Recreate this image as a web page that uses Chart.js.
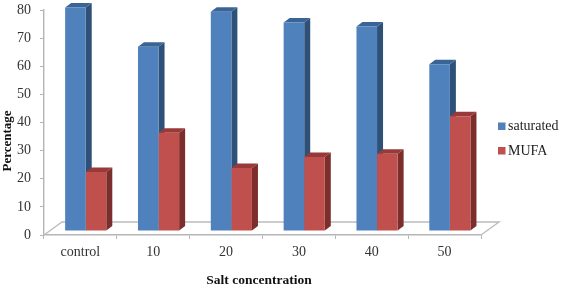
<!DOCTYPE html>
<html><head><meta charset="utf-8">
<style>html,body{margin:0;padding:0;background:#fff}#w{width:561px;height:288px}</style>
<script src="https://cdn.jsdelivr.net/npm/chart.js@4"></script></head>
<body><div id="w"><canvas id="c" width="561" height="288"></canvas></div>
<script>
const categories=['control','10','20','30','40','50'];
const saturated=[79.5,65.5,78,74.1,72.7,59.3];
const mufa=[21,34.9,22.4,26.3,27.5,40.8];
const yTicks=[0,10,20,30,40,50,60,70,80];
const xTitle='Salt concentration', yTitle='Percentage';
const serif='"Liberation Serif","Times New Roman",serif';
const DEPTH={x:18,y:13},SHIFT={x:5.3,y:-4},EX={x:6,y:4.5};
const colors=[{f:'#4f81bd',s:'#2f5178',t:'#3a6496'},{f:'#c0504d',s:'#7b2e2c',t:'#98393a'}];
const threeD={id:'threeD',
 beforeDatasetsDraw(ch){const a=ch.chartArea,c=ch.ctx;
  c.save();c.strokeStyle='#bcbcbc';c.lineWidth=1.4;c.beginPath();
  c.moveTo(a.left,a.bottom);c.lineTo(a.left+DEPTH.x,a.bottom-DEPTH.y);
  c.lineTo(a.right+DEPTH.x,a.bottom-DEPTH.y);c.lineTo(a.right,a.bottom);c.stroke();c.restore();
  c.save();c.translate(SHIFT.x,SHIFT.y);
  [0,1].forEach(index=>{const k=colors[index];
   ch.getDatasetMeta(index).data.forEach(b=>{const p=b.getProps(['x','y','base','width'],true);
    const l=p.x-p.width/2,r=p.x+p.width/2;
    c.fillStyle=k.s;c.beginPath();c.moveTo(r,p.y);c.lineTo(r+EX.x,p.y-EX.y);c.lineTo(r+EX.x,p.base-EX.y);c.lineTo(r,p.base);c.closePath();c.fill();
    c.fillStyle=k.t;c.beginPath();c.moveTo(l,p.y);c.lineTo(l+EX.x,p.y-EX.y);c.lineTo(r+EX.x,p.y-EX.y);c.lineTo(r,p.y);c.closePath();c.fill();
   });});},
 afterDatasetsDraw(ch){ch.ctx.restore();
  const c=ch.ctx;
  c.save();c.translate(8,141);c.rotate(-Math.PI/2);c.font='bold 13px '+serif;c.fillStyle='#111';
  c.textAlign='center';c.textBaseline='middle';c.fillText(yTitle,0,0);c.restore();
  c.save();c.font='bold 13.5px '+serif;c.fillStyle='#111';c.textAlign='center';c.textBaseline='middle';
  c.fillText(xTitle,259,281);
  c.textAlign='left';c.font='14px '+serif;c.fillStyle='#222';
  [[122.5,126],[147,151]].forEach(([by,ty],i)=>{
   c.fillStyle=colors[i].f;c.fillRect(498,by,7.5,7.5);
   c.fillStyle='#222';c.fillText(ch.data.datasets[i].label,508,ty);
  });
  c.restore();}
};
new Chart(document.getElementById('c'),{type:'bar',plugins:[threeD],
 data:{labels:categories,datasets:[
  {label:'saturated',data:saturated,backgroundColor:colors[0].f,clip:false},
  {label:'MUFA',data:mufa,backgroundColor:colors[1].f,clip:false}]},
 options:{responsive:false,animation:false,
  layout:{padding:{top:10,right:80,left:0,bottom:0}},
  datasets:{bar:{categoryPercentage:0.565,barPercentage:1}},
  plugins:{tooltip:{enabled:false},title:{display:false},legend:{display:false}},
  scales:{
   x:{offset:true,border:{color:'#b5b5b5',width:1.4},
    afterFit(s){s.height=53;},
    grid:{drawOnChartArea:false,color:'#b5b5b5',tickLength:4,offset:true},
    ticks:{color:'#333',font:{family:serif,size:14},padding:5,maxRotation:0}},
   y:{min:0,max:80,afterBuildTicks(s){s.ticks=yTicks.map(v=>({value:v}));},
    afterFit(s){s.width=44;s.paddingTop=0;s.paddingBottom=0;},
    border:{color:'#b5b5b5',width:1.4},
    grid:{drawOnChartArea:false,color:'#b5b5b5',tickLength:4},
    ticks:{color:'#333',font:{family:serif,size:14},padding:9}}
  }}});
</script></body></html>
